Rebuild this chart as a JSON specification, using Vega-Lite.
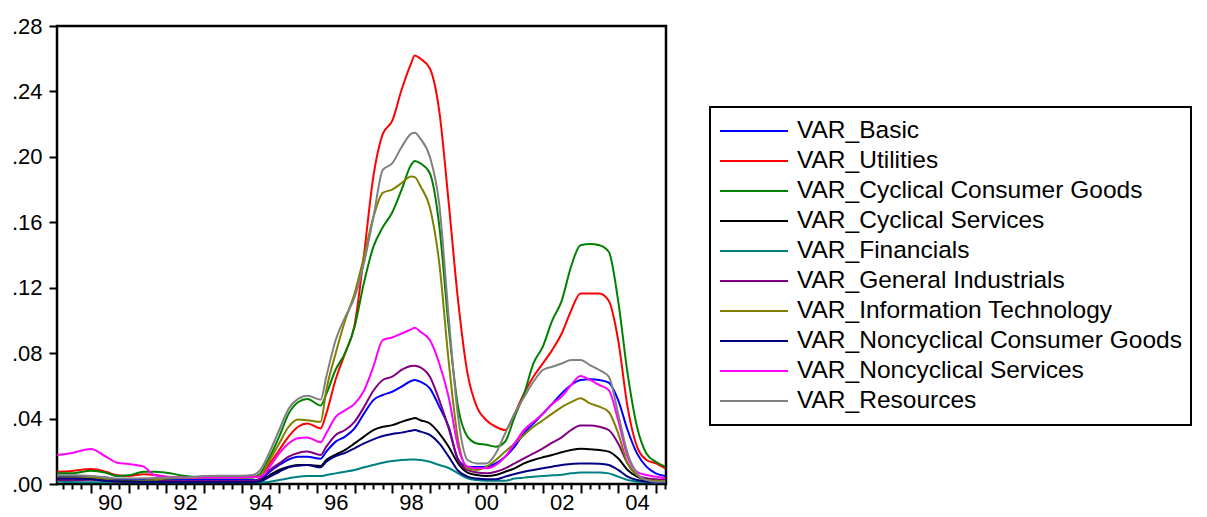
{
 "$schema": "https://vega.github.io/schema/vega-lite/v6.json",
 "width": 609, "height": 458,
 "autosize": "none",
 "padding": {"left": 57, "top": 26, "right": 541, "bottom": 33},
 "background": "white",
 "config": {"view": {"stroke": "#000", "strokeWidth": 2.5}, "font": "Liberation Sans"},
 "data": {"values": [
  {"s": "VAR_Basic", "t": [1989.1,1989.5,1990.0,1990.4,1990.7,1991.0,1991.4,1991.7,1992.0,1992.5,1993.0,1993.5,1994.0,1994.3,1994.5,1994.75,1995.0,1995.25,1995.5,1995.75,1996.1,1996.25,1996.5,1996.75,1997.0,1997.25,1997.5,1997.75,1998.0,1998.25,1998.5,1998.6,1998.75,1999.0,1999.25,1999.5,1999.75,2000.0,2000.25,2000.5,2000.75,2001.0,2001.25,2001.5,2001.75,2002.0,2002.25,2002.5,2002.75,2003.0,2003.25,2003.5,2003.75,2004.0,2004.25,2004.5,2004.75,2005.0,2005.25],
   "v": [0.0045,0.0045,0.0043,0.0039,0.0029,0.0026,0.0026,0.0025,0.0024,0.0024,0.0024,0.0024,0.0024,0.0024,0.0028,0.0075,0.0116,0.015,0.0167,0.0167,0.0155,0.0198,0.0259,0.029,0.034,0.043,0.0513,0.0544,0.0564,0.0595,0.063,0.0636,0.0625,0.0585,0.0473,0.035,0.015,0.0106,0.0104,0.0106,0.0126,0.0167,0.0228,0.031,0.037,0.043,0.049,0.0554,0.0605,0.0636,0.064,0.0636,0.062,0.0513,0.033,0.0187,0.0106,0.0065,0.0049]},
  {"s": "VAR_Utilities", "t": [1989.1,1989.5,1990.0,1990.4,1990.7,1991.0,1991.4,1991.7,1992.0,1992.5,1993.0,1993.5,1994.0,1994.3,1994.5,1994.75,1995.0,1995.25,1995.5,1995.75,1996.1,1996.25,1996.5,1996.75,1997.0,1997.25,1997.5,1997.75,1998.0,1998.25,1998.5,1998.6,1998.75,1999.0,1999.25,1999.5,1999.75,2000.0,2000.25,2000.5,2000.75,2001.0,2001.25,2001.5,2001.75,2002.0,2002.25,2002.5,2002.75,2003.0,2003.25,2003.5,2003.75,2004.0,2004.25,2004.5,2004.75,2005.0,2005.25],
   "v": [0.0075,0.008,0.0092,0.0075,0.0053,0.0049,0.006,0.0055,0.0045,0.004,0.0039,0.0039,0.0039,0.0042,0.0055,0.0126,0.0208,0.029,0.035,0.037,0.034,0.043,0.064,0.08,0.097,0.14,0.188,0.214,0.222,0.241,0.257,0.262,0.26,0.254,0.228,0.172,0.112,0.0676,0.047,0.039,0.035,0.033,0.043,0.0554,0.0656,0.0737,0.082,0.092,0.106,0.1165,0.1165,0.1165,0.112,0.088,0.047,0.0228,0.0147,0.0126,0.0096]},
  {"s": "VAR_Cyclical Consumer Goods", "t": [1989.1,1989.5,1990.0,1990.4,1990.7,1991.0,1991.4,1991.7,1992.0,1992.5,1993.0,1993.5,1994.0,1994.3,1994.5,1994.75,1995.0,1995.25,1995.5,1995.75,1996.1,1996.25,1996.5,1996.75,1997.0,1997.25,1997.5,1997.75,1998.0,1998.25,1998.5,1998.6,1998.75,1999.0,1999.25,1999.5,1999.75,2000.0,2000.25,2000.5,2000.75,2001.0,2001.25,2001.5,2001.75,2002.0,2002.25,2002.5,2002.75,2003.0,2003.25,2003.5,2003.75,2004.0,2004.25,2004.5,2004.75,2005.0,2005.25],
   "v": [0.0065,0.0065,0.0081,0.0069,0.0049,0.0053,0.0075,0.0075,0.0069,0.0049,0.004,0.0039,0.0039,0.0042,0.0065,0.0167,0.029,0.043,0.05,0.052,0.048,0.055,0.07,0.08,0.096,0.123,0.145,0.157,0.166,0.18,0.195,0.1975,0.196,0.19,0.158,0.096,0.047,0.029,0.0248,0.024,0.0228,0.026,0.041,0.055,0.0737,0.084,0.1,0.112,0.133,0.146,0.1467,0.146,0.142,0.112,0.0676,0.035,0.0187,0.0136,0.0106]},
  {"s": "VAR_Cyclical Services", "t": [1989.1,1989.5,1990.0,1990.4,1990.7,1991.0,1991.4,1991.7,1992.0,1992.5,1993.0,1993.5,1994.0,1994.3,1994.5,1994.75,1995.0,1995.25,1995.5,1995.75,1996.1,1996.25,1996.5,1996.75,1997.0,1997.25,1997.5,1997.75,1998.0,1998.25,1998.5,1998.6,1998.75,1999.0,1999.25,1999.5,1999.75,2000.0,2000.25,2000.5,2000.75,2001.0,2001.25,2001.5,2001.75,2002.0,2002.25,2002.5,2002.75,2003.0,2003.25,2003.5,2003.75,2004.0,2004.25,2004.5,2004.75,2005.0,2005.25],
   "v": [0.0035,0.0034,0.0033,0.0024,0.002,0.0018,0.0018,0.0018,0.0018,0.0017,0.0016,0.0016,0.0014,0.0014,0.002,0.0055,0.0086,0.0106,0.0116,0.0116,0.011,0.0147,0.018,0.0208,0.0248,0.029,0.033,0.035,0.036,0.038,0.0397,0.0403,0.039,0.037,0.031,0.0228,0.0126,0.007,0.0055,0.0049,0.0055,0.0075,0.0096,0.0126,0.0147,0.0163,0.0177,0.0194,0.0208,0.0216,0.0212,0.0208,0.0198,0.0157,0.0086,0.0045,0.0024,0.0018,0.0014]},
  {"s": "VAR_Financials", "t": [1989.1,1989.5,1990.0,1990.4,1990.7,1991.0,1991.4,1991.7,1992.0,1992.5,1993.0,1993.5,1994.0,1994.3,1994.5,1994.75,1995.0,1995.25,1995.5,1995.75,1996.1,1996.25,1996.5,1996.75,1997.0,1997.25,1997.5,1997.75,1998.0,1998.25,1998.5,1998.6,1998.75,1999.0,1999.25,1999.5,1999.75,2000.0,2000.25,2000.5,2000.75,2001.0,2001.25,2001.5,2001.75,2002.0,2002.25,2002.5,2002.75,2003.0,2003.25,2003.5,2003.75,2004.0,2004.25,2004.5,2004.75,2005.0,2005.25],
   "v": [0.0016,0.0012,0.001,0.001,0.001,0.001,0.001,0.001,0.001,0.001,0.001,0.001,0.001,0.001,0.001,0.0014,0.0024,0.0035,0.0045,0.0049,0.0049,0.0055,0.0065,0.0075,0.0086,0.0102,0.0116,0.013,0.014,0.0147,0.015,0.015,0.0147,0.0136,0.0116,0.0098,0.0065,0.0035,0.0024,0.002,0.002,0.002,0.0033,0.0039,0.0045,0.0049,0.0053,0.0057,0.0065,0.007,0.007,0.007,0.0065,0.0045,0.0024,0.0014,0.001,0.0009,0.0008]},
  {"s": "VAR_General Industrials", "t": [1989.1,1989.5,1990.0,1990.4,1990.7,1991.0,1991.4,1991.7,1992.0,1992.5,1993.0,1993.5,1994.0,1994.3,1994.5,1994.75,1995.0,1995.25,1995.5,1995.75,1996.1,1996.25,1996.5,1996.75,1997.0,1997.25,1997.5,1997.75,1998.0,1998.25,1998.5,1998.6,1998.75,1999.0,1999.25,1999.5,1999.75,2000.0,2000.25,2000.5,2000.75,2001.0,2001.25,2001.5,2001.75,2002.0,2002.25,2002.5,2002.75,2003.0,2003.25,2003.5,2003.75,2004.0,2004.25,2004.5,2004.75,2005.0,2005.25],
   "v": [0.0024,0.0024,0.0026,0.002,0.0012,0.0012,0.0014,0.0016,0.0018,0.0018,0.0018,0.0018,0.0018,0.002,0.0035,0.0086,0.0126,0.0167,0.019,0.0198,0.0178,0.0228,0.03,0.033,0.038,0.047,0.057,0.0636,0.0656,0.0697,0.0721,0.0723,0.0713,0.0656,0.0513,0.034,0.0147,0.0086,0.007,0.0065,0.0075,0.0096,0.0126,0.0157,0.0187,0.0218,0.0253,0.0285,0.033,0.0358,0.0358,0.035,0.033,0.0248,0.0126,0.0055,0.0035,0.0029,0.0024]},
  {"s": "VAR_Information Technology", "t": [1989.1,1989.5,1990.0,1990.4,1990.7,1991.0,1991.4,1991.7,1992.0,1992.5,1993.0,1993.5,1994.0,1994.3,1994.5,1994.75,1995.0,1995.25,1995.5,1995.75,1996.1,1996.25,1996.5,1996.75,1997.0,1997.25,1997.5,1997.75,1998.0,1998.25,1998.5,1998.6,1998.75,1999.0,1999.25,1999.5,1999.75,2000.0,2000.25,2000.5,2000.75,2001.0,2001.25,2001.5,2001.75,2002.0,2002.25,2002.5,2002.75,2003.0,2003.25,2003.5,2003.75,2004.0,2004.25,2004.5,2004.75,2005.0,2005.25],
   "v": [0.004,0.004,0.0039,0.0029,0.0016,0.0016,0.002,0.0024,0.0033,0.0037,0.0039,0.0039,0.0039,0.004,0.0055,0.0147,0.0248,0.035,0.0395,0.039,0.038,0.0574,0.08,0.1,0.1165,0.139,0.163,0.178,0.18,0.184,0.188,0.1876,0.182,0.169,0.135,0.075,0.027,0.0096,0.0086,0.0106,0.0147,0.0198,0.0248,0.03,0.035,0.039,0.043,0.047,0.05,0.0524,0.0493,0.0473,0.044,0.031,0.0126,0.0055,0.0024,0.002,0.0018]},
  {"s": "VAR_Noncyclical Consumer Goods", "t": [1989.1,1989.5,1990.0,1990.4,1990.7,1991.0,1991.4,1991.7,1992.0,1992.5,1993.0,1993.5,1994.0,1994.3,1994.5,1994.75,1995.0,1995.25,1995.5,1995.75,1996.1,1996.25,1996.5,1996.75,1997.0,1997.25,1997.5,1997.75,1998.0,1998.25,1998.5,1998.6,1998.75,1999.0,1999.25,1999.5,1999.75,2000.0,2000.25,2000.5,2000.75,2001.0,2001.25,2001.5,2001.75,2002.0,2002.25,2002.5,2002.75,2003.0,2003.25,2003.5,2003.75,2004.0,2004.25,2004.5,2004.75,2005.0,2005.25],
   "v": [0.0033,0.0033,0.0029,0.002,0.0016,0.0014,0.0013,0.0013,0.0012,0.0012,0.0012,0.0012,0.0012,0.0012,0.0016,0.0045,0.0075,0.0102,0.0112,0.0116,0.0102,0.0136,0.0171,0.019,0.0218,0.0248,0.0273,0.0293,0.0306,0.0314,0.0326,0.033,0.032,0.03,0.0248,0.0167,0.0081,0.0045,0.0033,0.0029,0.0029,0.0045,0.0061,0.0075,0.0086,0.0096,0.0106,0.0116,0.0122,0.0126,0.0126,0.0124,0.0116,0.0086,0.0045,0.0024,0.0014,0.001,0.0008]},
  {"s": "VAR_Noncyclical Services", "t": [1989.1,1989.5,1990.0,1990.4,1990.7,1991.0,1991.4,1991.7,1992.0,1992.5,1993.0,1993.5,1994.0,1994.3,1994.5,1994.75,1995.0,1995.25,1995.5,1995.75,1996.1,1996.25,1996.5,1996.75,1997.0,1997.25,1997.5,1997.75,1998.0,1998.25,1998.5,1998.6,1998.75,1999.0,1999.25,1999.5,1999.75,2000.0,2000.25,2000.5,2000.75,2001.0,2001.25,2001.5,2001.75,2002.0,2002.25,2002.5,2002.75,2003.0,2003.25,2003.5,2003.75,2004.0,2004.25,2004.5,2004.75,2005.0,2005.25],
   "v": [0.0177,0.019,0.0214,0.0167,0.013,0.0122,0.0106,0.0053,0.0045,0.004,0.004,0.004,0.004,0.0045,0.0045,0.0106,0.0187,0.0248,0.028,0.0285,0.0255,0.031,0.041,0.045,0.049,0.057,0.0717,0.088,0.0896,0.092,0.0945,0.0955,0.093,0.088,0.0737,0.053,0.0228,0.0106,0.0096,0.0096,0.0116,0.0167,0.0248,0.033,0.038,0.043,0.049,0.0534,0.0605,0.066,0.0636,0.0605,0.0574,0.039,0.0167,0.0075,0.0055,0.0045,0.0035]},
  {"s": "VAR_Resources", "t": [1989.1,1989.5,1990.0,1990.4,1990.7,1991.0,1991.4,1991.7,1992.0,1992.5,1993.0,1993.5,1994.0,1994.3,1994.5,1994.75,1995.0,1995.25,1995.5,1995.75,1996.1,1996.25,1996.5,1996.75,1997.0,1997.25,1997.5,1997.75,1998.0,1998.25,1998.5,1998.6,1998.75,1999.0,1999.25,1999.5,1999.75,2000.0,2000.25,2000.5,2000.75,2001.0,2001.25,2001.5,2001.75,2002.0,2002.25,2002.5,2002.75,2003.0,2003.25,2003.5,2003.75,2004.0,2004.25,2004.5,2004.75,2005.0,2005.25],
   "v": [0.0053,0.0053,0.0049,0.004,0.0033,0.0033,0.0035,0.0036,0.0039,0.004,0.0049,0.0051,0.0051,0.0055,0.0086,0.0198,0.033,0.046,0.052,0.054,0.0515,0.0656,0.088,0.102,0.114,0.135,0.163,0.192,0.196,0.206,0.214,0.2147,0.211,0.2,0.171,0.102,0.041,0.0147,0.0126,0.0126,0.0187,0.031,0.043,0.053,0.0625,0.0697,0.0717,0.0737,0.0758,0.0758,0.0727,0.0697,0.0656,0.043,0.0187,0.0065,0.0024,0.0014,0.0014]}
 ]},
 "transform": [{"flatten": ["t", "v"]}],
 "mark": {"type": "line", "strokeWidth": 2, "clip": true, "interpolate": "monotone"},
 "encoding": {
  "x": {"field": "t", "type": "quantitative",
   "scale": {"domain": [1989.1, 2005.27], "nice": false, "zero": false},
   "axis": {"title": null, "grid": false, "domain": false,
    "values": [1989.25,1989.5,1989.75,1990,1990.25,1990.5,1990.75,1991,1991.25,1991.5,1991.75,1992,1992.25,1992.5,1992.75,1993,1993.25,1993.5,1993.75,1994,1994.25,1994.5,1994.75,1995,1995.25,1995.5,1995.75,1996,1996.25,1996.5,1996.75,1997,1997.25,1997.5,1997.75,1998,1998.25,1998.5,1998.75,1999,1999.25,1999.5,1999.75,2000,2000.25,2000.5,2000.75,2001,2001.25,2001.5,2001.75,2002,2002.25,2002.5,2002.75,2003,2003.25,2003.5,2003.75,2004,2004.25,2004.5,2004.75,2005,2005.25],
    "tickSize": {"condition": {"test": "abs(datum.value - round(datum.value)) < 0.01", "value": 9}, "value": 5},
    "tickWidth": 2, "tickColor": "#000",
    "labelExpr": "(abs(datum.value - floor(datum.value) - 0.5) < 0.01 && floor(datum.value) % 2 == 0) ? slice(toString(floor(datum.value)), 2) : ''",
    "labelFontSize": 22, "labelColor": "#000", "labelPadding": 3,
    "labelFlush": false, "labelOverlap": false, "labelBound": false}},
  "y": {"field": "v", "type": "quantitative",
   "scale": {"domain": [0, 0.28], "nice": false, "zero": true},
   "axis": {"title": null, "grid": false, "domain": false,
    "values": [0, 0.04, 0.08, 0.12, 0.16, 0.2, 0.24, 0.28],
    "labelExpr": "slice(format(datum.value, '.2f'), 1)",
    "tickSize": 8, "tickWidth": 2, "tickColor": "#000",
    "labelFontSize": 22, "labelColor": "#000", "labelPadding": 7}},
  "color": {"field": "s", "type": "nominal",
   "scale": {"domain": ["VAR_Basic","VAR_Utilities","VAR_Cyclical Consumer Goods","VAR_Cyclical Services","VAR_Financials","VAR_General Industrials","VAR_Information Technology","VAR_Noncyclical Consumer Goods","VAR_Noncyclical Services","VAR_Resources"],
    "range": ["#0000FF","#FF0000","#008000","#000000","#008080","#800080","#808000","#000080","#FF00FF","#808080"]},
   "legend": {"title": null, "orient": "none", "legendX": 653, "legendY": 81,
    "symbolType": "stroke", "symbolSize": 4624, "symbolStrokeWidth": 2,
    "labelFontSize": 24.5, "labelColor": "#000", "labelLimit": 0, "labelOffset": 8,
    "clipHeight": 30, "rowPadding": 0, "padding": 9,
    "strokeColor": "#000", "fillColor": "white",
    "encode": {"legend": {"update": {"strokeWidth": {"value": 2}}}}}}
 }
}
